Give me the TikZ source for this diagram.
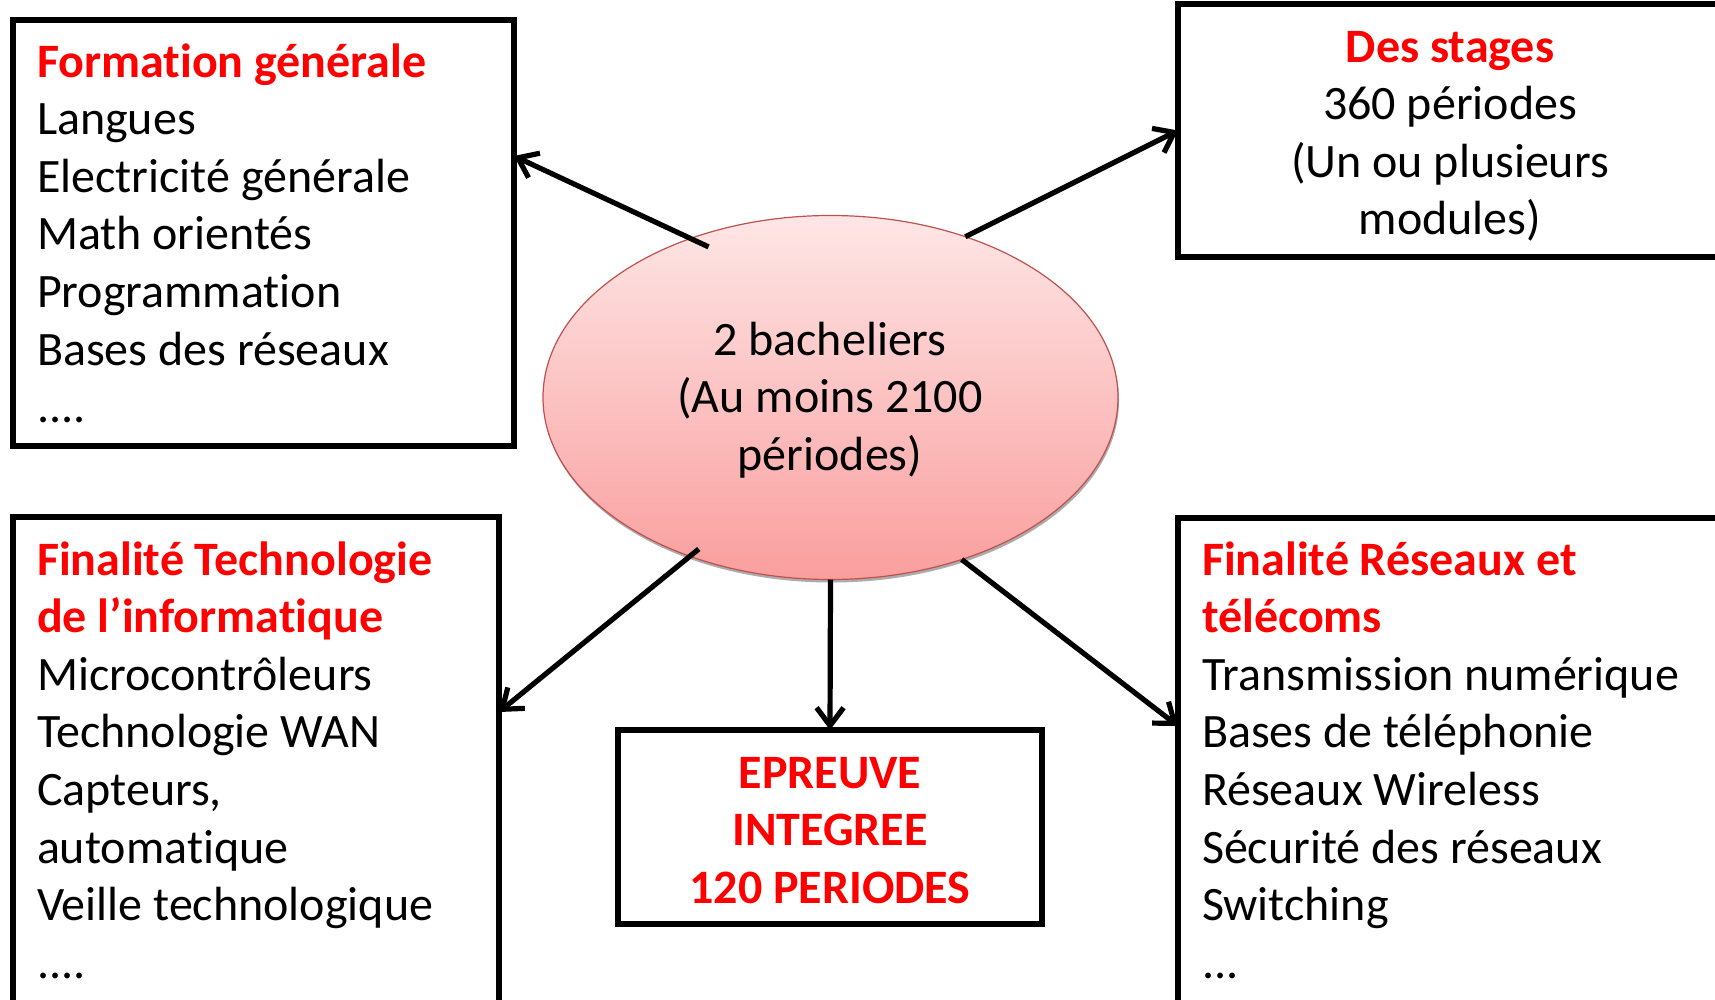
\documentclass[tikz,border=0pt]{standalone}
\usepackage{fontspec}
\setmainfont{Carlito}[Ligatures={NoCommon,NoContextual,NoRequired},Contextuals={NoAlternate}]
\usetikzlibrary{calc,arrows.meta,shapes.geometric}
\definecolor{titred}{RGB}{255,0,0}
\definecolor{elltop}{RGB}{254,230,230}
\definecolor{ellbot}{RGB}{250,158,158}
\definecolor{ellline}{RGB}{192,80,77}
\begin{document}
\begin{tikzpicture}[x=1pt,y=-1pt,
  boxnode/.style={draw=black,line width=5.2pt,rectangle,inner sep=0pt,outer sep=0pt},
  txt/.style={inner sep=0pt,outer sep=0pt,font=\fontsize{48}{57.6}\selectfont},
  arr/.style={draw=black,line width=5.2pt,-{Straight Barb[length=18pt,width=27pt]}}]
\useasboundingbox (0,0) rectangle (1715,1000);
\clip (0,0) rectangle (1715,1000);
\fill[white] (0,0) rectangle (1715,1000);

% central ellipse
\node[ellipse,fill=gray!65,inner sep=0pt,outer sep=0pt,minimum width=575pt,minimum height=364pt] (ellshadow) at (831.5,400.5) {};
\node[ellipse,draw=ellline,line width=1.2pt,top color=elltop,bottom color=ellbot,inner sep=0pt,outer sep=0pt,minimum width=575pt,minimum height=364pt] (ell) at (830.5,397.5) {};
\node[txt,align=center,anchor=north] (elltext) at (830,314.7) {\strut 2 bacheliers\\(Au moins 2100\\périodes)};

% boxes
\node[boxnode,minimum width=501pt,minimum height=426pt] (fgbox) at (263.5,233) {};
\node[boxnode,minimum width=544pt,minimum height=253pt] (stbox) at (1450,130.5) {};
\node[boxnode,minimum width=486pt,minimum height=503pt] (blbox) at (256,768.5) {};
\node[boxnode,minimum width=424pt,minimum height=194pt] (bmbox) at (830,827) {};
\node[boxnode,minimum width=547pt,minimum height=502pt] (brbox) at (1451.5,769) {};

% texts
\node[txt,align=left,anchor=north west] (fgtext) at (37,36.7) {\strut\textcolor{titred}{\bfseries Formation générale}\\Langues\\Electricité générale\\Math orientés\\Programmation\\Bases des réseaux\\....};
\node[txt,align=center,anchor=north] (sttext) at (1450,21.7) {\strut\textcolor{titred}{\bfseries Des stages}\\360 périodes\\(Un ou plusieurs\\modules)};
\node[txt,align=left,anchor=north west] (bltext) at (37,534.7) {\strut\textcolor{titred}{\bfseries Finalité Technologie}\\\textcolor{titred}{\bfseries de l’informatique}\\Microcontrôleurs\\Technologie WAN\\Capteurs,\\automatique\\Veille technologique\\....};
\node[txt,align=center,anchor=north] (bmtext) at (830,747.7) {\strut\textcolor{titred}{\bfseries EPREUVE}\\\textcolor{titred}{\bfseries INTEGREE}\\\textcolor{titred}{\bfseries 120 PERIODES}};
\node[txt,align=left,anchor=north west] (brtext) at (1202,534.7) {\strut\textcolor{titred}{\bfseries Finalité Réseaux et}\\\textcolor{titred}{\bfseries télécoms}\\Transmission numérique\\Bases de téléphonie\\Réseaux Wireless\\Sécurité des réseaux\\Switching\\...};

% connectors
\draw[arr] ($(ell.center)!0.93!(ell.129)$) -- ($(fgbox.north east)+(0,136)$);
\draw[arr] (ell.50.5) -- (stbox.west);
\draw[arr] ($(ell.center)!0.95!(ell.229)$) -- ($(blbox.north east)+(0,195)$);
\draw[arr] (ell.south) -- (bmbox.north);
\draw[arr] (ell.309.3) -- ($(brbox.north west)+(0,208)$);
\end{tikzpicture}
\end{document}
